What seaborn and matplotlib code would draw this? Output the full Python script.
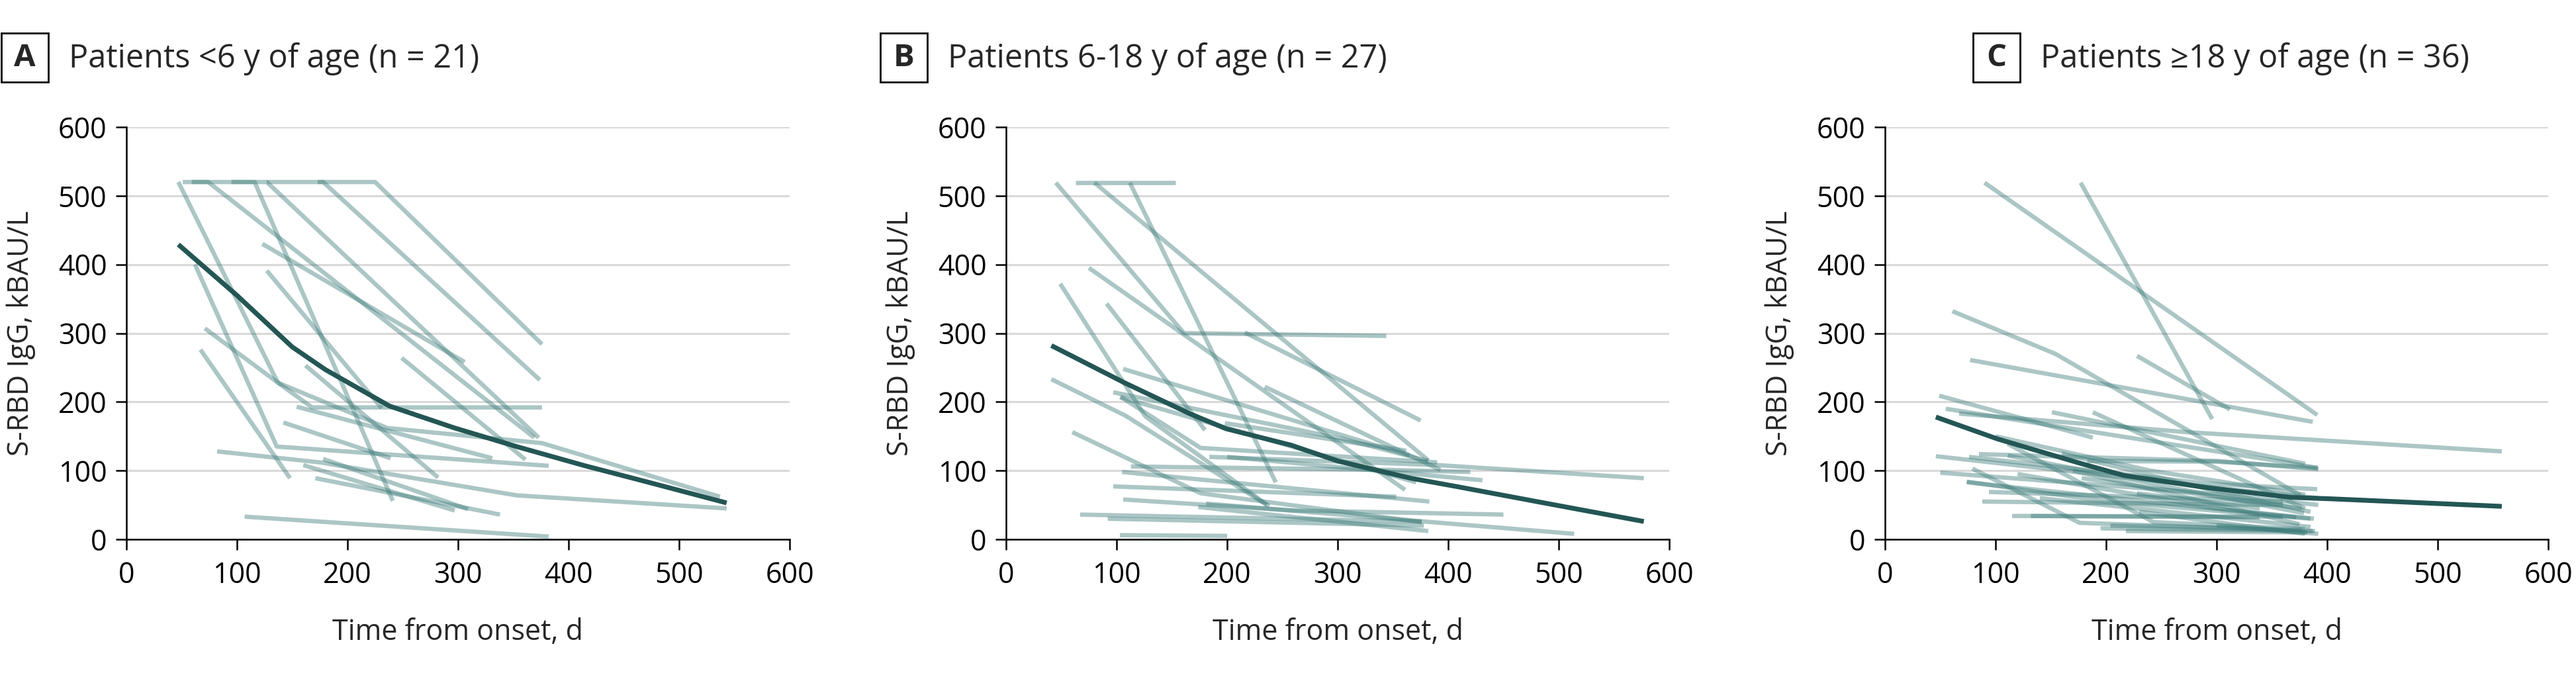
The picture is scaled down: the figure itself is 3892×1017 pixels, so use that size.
import matplotlib
matplotlib.use("Agg")
import numpy as np
import pandas as pd
import matplotlib.pyplot as plt
import seaborn as sns
from matplotlib.patches import Rectangle

# panel headings
panel_letters = ["A", "B", "C"]
panel_titles = ["Patients <6 y of age (n = 21)",
                "Patients 6-18 y of age (n = 27)",
                "Patients \u226518 y of age (n = 36)"]

# Panel A: patients <6 y (values above the assay limit shown at 520)
a_days = [[47, 137], [62, 136, 382], [67, 148], [71, 137, 168, 376], [154, 331],
          [82, 175, 353, 543], [107, 382], [160, 297], [178, 309], [171, 338],
          [142, 239], [162, 282], [127, 231], [123, 306], [51, 74, 369],
          [59, 116, 241], [95, 127, 373], [127, 178, 374], [173, 225, 376],
          [249, 361], [137, 236, 376, 537]]
a_igg = [[520, 228], [400, 135, 107], [276, 89], [307, 228, 192, 192], [193, 118],
         [128, 112, 64, 45], [33, 4], [108, 42], [117, 44], [89, 36],
         [170, 118], [253, 90], [391, 191], [430, 258], [520, 520, 148],
         [520, 520, 56], [520, 520, 148], [520, 520, 232], [520, 520, 284],
         [264, 116], [228, 162, 140, 62]]
a_mean_days = [47, 100, 150, 180, 238, 297, 353, 415, 470, 543]
a_mean_igg = [429, 355, 280, 247, 194, 162, 135, 107, 84, 53]

# Panel B: patients 6-18 y
b_days = [[45, 161, 344], [63, 153], [112, 244], [80, 382], [75, 361],
          [216, 375], [234, 393], [41, 108, 236], [49, 126, 238], [91, 180],
          [60, 176, 376], [106, 190, 365], [184, 391, 577], [198, 362],
          [97, 305, 382], [103, 371], [104, 176, 390], [113, 349, 420],
          [105, 383], [97, 353], [106, 260, 450], [67, 376], [92, 378],
          [103, 200], [174, 382], [181, 514], [200, 431]]
b_igg = [[519, 300, 296], [519, 519], [519, 83], [519, 115], [395, 72],
         [301, 173], [222, 101], [233, 180, 50], [372, 179, 48], [343, 159],
         [156, 67, 25], [248, 207, 122], [120, 108, 89], [169, 129],
         [214, 146, 114], [207, 83], [207, 133, 112], [106, 101, 98],
         [98, 55], [77, 62], [58, 42, 36], [36, 26], [30, 20],
         [6, 5], [47, 12], [52, 8], [120, 86]]
b_mean_days = [41, 107, 166, 199, 258, 300, 366, 407, 480, 577]
b_mean_igg = [282, 228, 183, 161, 137, 114, 89, 77, 55, 26]

# Panel C: patients >=18 y
c_days = [[90, 391], [177, 296], [61, 154, 376], [77, 387], [228, 312],
          [49, 188], [55, 363, 391], [67, 273, 558], [151, 380], [188, 380],
          [76, 292, 391], [46, 300, 392], [85, 301, 392], [111, 243, 380],
          [111, 379], [183, 300, 392], [50, 301, 392], [74, 200, 385],
          [79, 176, 389], [88, 360], [115, 360], [132, 339], [195, 387],
          [204, 377], [218, 382], [94, 360], [74, 372], [178, 377],
          [228, 339], [300, 392], [120, 300, 388], [140, 385],
          [160, 300, 385], [100, 240, 380], [230, 380], [170, 375]]
c_igg = [[519, 181], [519, 175], [332, 270, 64], [261, 171], [267, 189],
         [209, 148], [190, 112, 104], [183, 156, 128], [185, 110], [185, 45],
         [120, 81, 73], [121, 75, 60], [124, 114, 102], [139, 25, 15],
         [122, 38], [114, 113, 104], [97, 66, 50], [84, 55, 30],
         [103, 24, 12], [55, 50], [34, 33], [34, 32], [16, 12],
         [20, 14], [12, 10], [69, 55], [83, 32], [89, 45],
         [67, 45], [20, 8], [95, 45, 30], [60, 18],
         [125, 70, 40], [150, 100, 65], [40, 8], [100, 22]]
c_mean_days = [46, 102, 178, 216, 292, 368, 403, 558]
c_mean_igg = [178, 146, 110, 93, 75, 61, 59, 48]

ticks = [0, 100, 200, 300, 400, 500, 600]


def to_long(days, igg):
    rows = []
    for pid, (d, v) in enumerate(zip(days, igg)):
        for x, y in zip(d, v):
            rows.append({"patient": pid, "day": x, "igg": y})
    return pd.DataFrame(rows)


sns.set_style("ticks")
plt.rcParams["font.family"] = ["Open Sans", "DejaVu Sans"]

W, H = 3892, 1017
fig = plt.figure(figsize=(W / 200, H / 200), dpi=200)

axes_left = [191, 1520, 2848]
title_x = [104, 1432, 3083]
panels = [(a_days, a_igg, a_mean_days, a_mean_igg),
          (b_days, b_igg, b_mean_days, b_mean_igg),
          (c_days, c_igg, c_mean_days, c_mean_igg)]

for i, (days, igg, mdays, migg) in enumerate(panels):
    ax = fig.add_axes([axes_left[i] / W, 1 - 815 / H, 1002 / W, 623 / H])
    df = to_long(days, igg)
    sns.lineplot(data=df, x="day", y="igg", units="patient", estimator=None,
                 color="#3d7c7a", alpha=0.43, lw=2.35, solid_capstyle="butt",
                 ax=ax, legend=False)
    sns.lineplot(x=mdays, y=migg, color="#235654", lw=2.6,
                 solid_capstyle="butt", ax=ax)

    ax.set_xlim(0, 600)
    ax.set_ylim(0, 600)
    ax.set_xticks(ticks)
    ax.set_yticks(ticks)
    ax.yaxis.grid(True, color="#d9d9d9", lw=1.1)
    ax.set_axisbelow(True)
    sns.despine(ax=ax)
    for s in ["left", "bottom"]:
        ax.spines[s].set_linewidth(0.9)
        ax.spines[s].set_color("black")
    ax.tick_params(axis="both", direction="out", length=5.7, width=0.9,
                   color="black", labelsize=15.5, labelcolor="black")
    ax.tick_params(axis="x", pad=6)
    ax.tick_params(axis="y", pad=5)
    ax.set_xlabel("Time from onset, d", fontsize=15.5, labelpad=15)
    ax.set_ylabel("S-RBD IgG, kBAU/L", fontsize=15.5, labelpad=12)

    # boxed panel letter and heading
    bx = title_x[i] - 31 - 71
    fig.patches.append(Rectangle((bx / W, 1 - 124 / H), 71 / W, 74 / H,
                                 transform=fig.transFigure, fill=False,
                                 ec="black", lw=1.0))
    fig.text((bx + 35.5) / W, 1 - 87 / H, panel_letters[i], fontsize=17,
             fontweight="bold", ha="center", va="center")
    fig.text(title_x[i] / W, 1 - 89 / H, panel_titles[i], fontsize=17.5,
             ha="left", va="center")

fig.savefig("out.png", dpi=200, facecolor="white")
